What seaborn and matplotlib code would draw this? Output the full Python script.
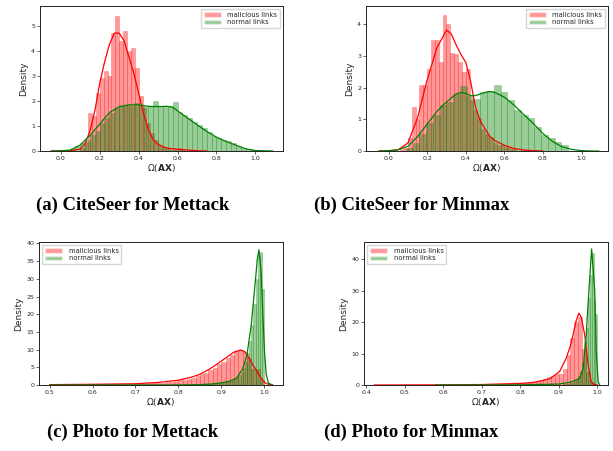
import numpy as np
import pandas as pd
import matplotlib.pyplot as plt
import seaborn as sns
from matplotlib.colors import to_rgba
from matplotlib.patches import Patch

sns.set_style("ticks")
plt.rcParams['font.family'] = ['DejaVu Sans']

# ---------------- (a) CiteSeer for Mettack ----------------
a_mal_start, a_mal_width = 0.10, 0.02
a_mal_hist = [0.1, 0.35, 1.5, 1.4, 2.3, 2.9, 3.2, 3.0, 4.7, 5.4, 4.4, 4.8, 4.0, 4.1,
              3.3, 2.2, 1.7, 1.1, 0.7, 0.45, 0.25, 0.15, 0.08, 0.05, 0.08, 0.12, 0.06]
a_nor_start, a_nor_width = 0.025, 0.025
a_nor_hist = [0.05, 0.1, 0.2, 0.3, 0.45, 0.65, 0.8, 1.1, 1.3, 1.5, 1.7, 1.8, 1.85, 1.8,
              1.9, 1.85, 1.75, 1.8, 2.0, 1.75, 1.75, 1.8, 1.95, 1.55, 1.45, 1.3, 1.15,
              1.05, 0.9, 0.75, 0.6, 0.5, 0.45, 0.38, 0.3, 0.2, 0.12, 0.07, 0.03]
a_mal_kde_x = [-0.05, 0.0, 0.05, 0.1, 0.125, 0.15, 0.175, 0.2, 0.225, 0.25, 0.275, 0.3,
               0.325, 0.35, 0.375, 0.4, 0.425, 0.45, 0.475, 0.5, 0.525, 0.55, 0.6, 0.65,
               0.7, 0.75]
a_mal_kde_y = [0.0, 0.0, 0.01, 0.08, 0.3, 0.8, 1.6, 2.7, 3.55, 4.25, 4.7, 4.7, 4.4, 3.75,
               3.1, 2.3, 1.5, 0.85, 0.45, 0.27, 0.17, 0.11, 0.07, 0.04, 0.01, 0.0]
a_nor_kde_x = [-0.05, 0.0, 0.05, 0.1, 0.15, 0.2, 0.25, 0.3, 0.35, 0.4, 0.45, 0.5, 0.55,
               0.575, 0.6, 0.65, 0.7, 0.75, 0.8, 0.85, 0.9, 0.95, 1.0, 1.05, 1.09]
a_nor_kde_y = [0.0, 0.01, 0.04, 0.24, 0.62, 1.07, 1.53, 1.77, 1.84, 1.84, 1.78, 1.77,
               1.78, 1.74, 1.6, 1.32, 1.05, 0.78, 0.55, 0.38, 0.23, 0.09, 0.02, 0.005, 0.0]

# ---------------- (b) CiteSeer for Minmax ----------------
b_mal_start, b_mal_width = 0.06, 0.02
b_mal_hist = [0.05, 0.1, 0.4, 1.4, 1.0, 2.1, 2.1, 2.6, 3.5, 3.5, 2.8, 4.3, 4.0, 3.1, 3.05,
              2.8, 2.5, 2.6, 1.6, 1.3, 1.05, 0.7, 0.55, 0.45, 0.25, 0.2, 0.18, 0.12, 0.1,
              0.05]
b_nor_start, b_nor_width = 0.09, 0.035
b_nor_hist = [0.1, 0.25, 0.55, 0.9, 1.15, 1.45, 1.55, 1.8, 2.05, 1.75, 1.65, 1.85, 1.9,
              2.1, 1.85, 1.6, 1.3, 1.15, 1.05, 0.75, 0.5, 0.4, 0.3, 0.2]
b_mal_kde_x = [-0.05, 0.0, 0.05, 0.1, 0.15, 0.2, 0.25, 0.3, 0.325, 0.35, 0.375, 0.4,
               0.425, 0.45, 0.475, 0.5, 0.525, 0.55, 0.6, 0.65, 0.7, 0.75, 0.8]
b_mal_kde_y = [0.0, 0.005, 0.04, 0.25, 1.05, 2.25, 3.25, 3.82, 3.7, 3.35, 3.05, 2.8,
               2.2, 1.4, 0.95, 0.7, 0.46, 0.33, 0.18, 0.08, 0.03, 0.01, 0.0]
b_nor_kde_x = [-0.05, 0.0, 0.05, 0.1, 0.15, 0.2, 0.25, 0.3, 0.35, 0.375, 0.4, 0.425,
               0.45, 0.5, 0.525, 0.55, 0.6, 0.65, 0.7, 0.75, 0.8, 0.85, 0.9, 0.95, 1.0,
               1.05, 1.09]
b_nor_kde_y = [0.0, 0.01, 0.04, 0.15, 0.45, 0.85, 1.25, 1.55, 1.8, 1.85, 1.82, 1.75,
               1.75, 1.85, 1.88, 1.85, 1.7, 1.45, 1.15, 0.87, 0.55, 0.3, 0.13, 0.05, 0.01,
               0.0, 0.0]

# ---------------- (c) Photo for Mettack ----------------
c_mal_start, c_mal_width = 0.50, 0.01
c_mal_hist = [0.1, 0.1, 0.12, 0.1, 0.12, 0.13, 0.13, 0.15, 0.15, 0.15, 0.17, 0.18, 0.2,
              0.2, 0.22, 0.22, 0.25, 0.25, 0.28, 0.3,
              0.3, 0.35, 0.4, 0.45, 0.5, 0.6, 0.7, 0.8, 0.95, 1.1,
              1.3, 1.5, 1.8, 2.1, 2.5, 3.0, 3.5, 4.2, 4.9, 5.8,
              6.6, 7.5, 8.6, 9.6, 9.9, 9.3, 7.5, 4.6, 4.5, 1.5]
c_nor_start, c_nor_width = 0.85, 0.005
c_nor_hist = [0.1, 0.1, 0.15, 0.2, 0.25, 0.3, 0.35, 0.45, 0.5, 0.6, 0.7, 0.8, 0.95, 1.1,
              1.3, 1.5, 1.8, 2.2, 2.8, 3.6, 4.8, 6.5, 9.0, 12.5, 17.0, 23.0, 30.0, 36.5,
              37.5, 27.0]
c_mal_kde_x = [0.5, 0.6, 0.7, 0.75, 0.8, 0.83, 0.85, 0.87, 0.89, 0.91, 0.93, 0.945,
               0.955, 0.965, 0.975, 0.985, 0.995, 1.005, 1.015, 1.02]
c_mal_kde_y = [0.1, 0.2, 0.35, 0.7, 1.35, 2.2, 3.0, 4.3, 5.9, 7.6, 9.3, 9.9, 9.4, 7.6,
               5.4, 3.5, 1.6, 0.4, 0.05, 0.0]
c_nor_kde_x = [0.5, 0.8, 0.85, 0.88, 0.9, 0.92, 0.935, 0.95, 0.96, 0.97, 0.98, 0.984,
               0.988, 0.993, 0.997, 1.001, 1.005, 1.01, 1.02]
c_nor_kde_y = [0.0, 0.02, 0.1, 0.3, 0.6, 1.1, 1.9, 4.5, 8.5, 17.0, 30.0, 35.5, 38.2,
               32.0, 20.0, 9.0, 3.0, 0.5, 0.0]

# ---------------- (d) Photo for Minmax ----------------
d_mal_start, d_mal_width = 0.60, 0.01
d_mal_hist = [0.05, 0.05, 0.05, 0.06, 0.06, 0.07, 0.07, 0.08, 0.08, 0.1, 0.1, 0.12, 0.13,
              0.15, 0.18, 0.2, 0.25, 0.3, 0.35, 0.45,
              0.55, 0.7, 0.85, 1.0, 1.3, 1.6, 2.0, 2.5, 3.0, 3.6,
              3.5, 5.0, 9.5, 15.0, 20.0, 21.5, 11.5, 4.0, 0.8]
d_nor_start, d_nor_width = 0.90, 0.005
d_nor_hist = [0.1, 0.15, 0.2, 0.3, 0.4, 0.55, 0.75, 1.0, 1.4, 2.0, 3.0, 4.5, 7.0, 14.0,
              18.0, 27.5, 35.0, 42.0, 27.0, 22.5]
d_mal_kde_x = [0.42, 0.6, 0.7, 0.8, 0.833, 0.86, 0.876, 0.89, 0.902, 0.919, 0.93, 0.937,
               0.945, 0.952, 0.958, 0.967, 0.976, 0.984, 0.99, 1.0]
d_mal_kde_y = [0.0, 0.05, 0.15, 0.5, 0.8, 1.5, 2.0, 3.2, 4.3, 8.5, 12.5, 16.0, 20.5,
               22.8, 21.5, 16.0, 6.4, 1.0, 0.2, 0.0]
d_nor_kde_x = [0.58, 0.8, 0.9, 0.93, 0.945, 0.954, 0.963, 0.971, 0.978, 0.985, 0.993,
               0.997, 1.002, 1.006]
d_nor_kde_y = [0.0, 0.05, 0.3, 0.9, 1.6, 2.2, 5.3, 16.0, 30.0, 43.2, 30.0, 10.6, 1.0, 0.0]

captions = ['(a) CiteSeer for Mettack', '(b) CiteSeer for Minmax',
            '(c) Photo for Mettack', '(d) Photo for Minmax']
labels = ['malicious links', 'normal links']
mal_color, nor_color = 'red', 'green'


def hist_from_bins(ax, start, width, heights, color):
    heights = np.asarray(heights, dtype=float)
    edges = start + width * np.arange(len(heights) + 1)
    df = pd.DataFrame({'value': (edges[:-1] + edges[1:]) / 2, 'height': heights})
    # bins passed as a plain list (seaborn compares it with "auto")
    sns.histplot(data=df, x='value', weights='height', bins=edges.tolist(), color=color,
                 alpha=0.4, edgecolor=to_rgba(color, 0.3), linewidth=0.5, ax=ax)


def draw_panel(ax, mal, nor, mal_kde, nor_kde, xlim, ylim, xticks, yticks, loc):
    hist_from_bins(ax, *mal, mal_color)
    hist_from_bins(ax, *nor, nor_color)
    sns.lineplot(x=mal_kde[0], y=mal_kde[1], color=mal_color, linewidth=0.9, ax=ax)
    sns.lineplot(x=nor_kde[0], y=nor_kde[1], color=nor_color, linewidth=0.9, ax=ax)
    ax.set_xlim(*xlim)
    ax.set_ylim(*ylim)
    ax.set_xticks(xticks)
    ax.set_yticks(yticks)
    ax.tick_params(labelsize=4.5, length=2, width=0.5, pad=1.5)
    ax.set_xlabel(r'$\Omega(\mathbf{AX})$', fontsize=6.5, labelpad=1)
    ax.set_ylabel('Density', fontsize=6.5, labelpad=2)
    for s in ax.spines.values():
        s.set_linewidth(0.7)
        s.set_color('#222222')
    handles = [Patch(facecolor=mal_color, alpha=0.4, label=labels[0]),
               Patch(facecolor=nor_color, alpha=0.4, label=labels[1])]
    ax.legend(handles=handles, loc=loc, fontsize=4.9, frameon=True, framealpha=0.8,
              borderpad=0.35, handlelength=2.6, handletextpad=0.9, labelspacing=0.25,
              fancybox=False, edgecolor='#cccccc')


fig = plt.figure(figsize=(6.13, 4.51), dpi=100)
W, H = 613, 451
boxes = [(40, 6, 283, 151), (366, 6, 608, 151), (39, 242, 283, 385), (364, 242, 608, 385)]
axes = [fig.add_axes([l / W, 1 - b / H, (r - l) / W, (b - t) / H]) for l, t, r, b in boxes]

draw_panel(axes[0], (a_mal_start, a_mal_width, a_mal_hist), (a_nor_start, a_nor_width, a_nor_hist),
           (a_mal_kde_x, a_mal_kde_y), (a_nor_kde_x, a_nor_kde_y),
           (-0.107, 1.142), (0, 5.78), np.arange(0, 1.01, 0.2), range(0, 6), 'upper right')
draw_panel(axes[1], (b_mal_start, b_mal_width, b_mal_hist), (b_nor_start, b_nor_width, b_nor_hist),
           (b_mal_kde_x, b_mal_kde_y), (b_nor_kde_x, b_nor_kde_y),
           (-0.117, 1.137), (0, 4.58), np.arange(0, 1.01, 0.2), range(0, 5), 'upper right')
draw_panel(axes[2], (c_mal_start, c_mal_width, c_mal_hist), (c_nor_start, c_nor_width, c_nor_hist),
           (c_mal_kde_x, c_mal_kde_y), (c_nor_kde_x, c_nor_kde_y),
           (0.475, 1.044), (0, 40.4), np.arange(0.5, 1.01, 0.1), range(0, 41, 5), 'upper left')
draw_panel(axes[3], (d_mal_start, d_mal_width, d_mal_hist), (d_nor_start, d_nor_width, d_nor_hist),
           (d_mal_kde_x, d_mal_kde_y), (d_nor_kde_x, d_nor_kde_y),
           (0.394, 1.0275), (0, 45.4), np.arange(0.4, 1.01, 0.1), range(0, 41, 10), 'upper left')

cap_pos = [(133, 205), (412, 205), (133, 432), (411, 432)]
for (cx, cy), text in zip(cap_pos, captions):
    fig.text(cx / W, 1 - cy / H, text, ha='center', va='center', fontsize=13.4,
             fontweight='bold', family='Liberation Serif', color='black')

fig.savefig('out.png', dpi=100)
